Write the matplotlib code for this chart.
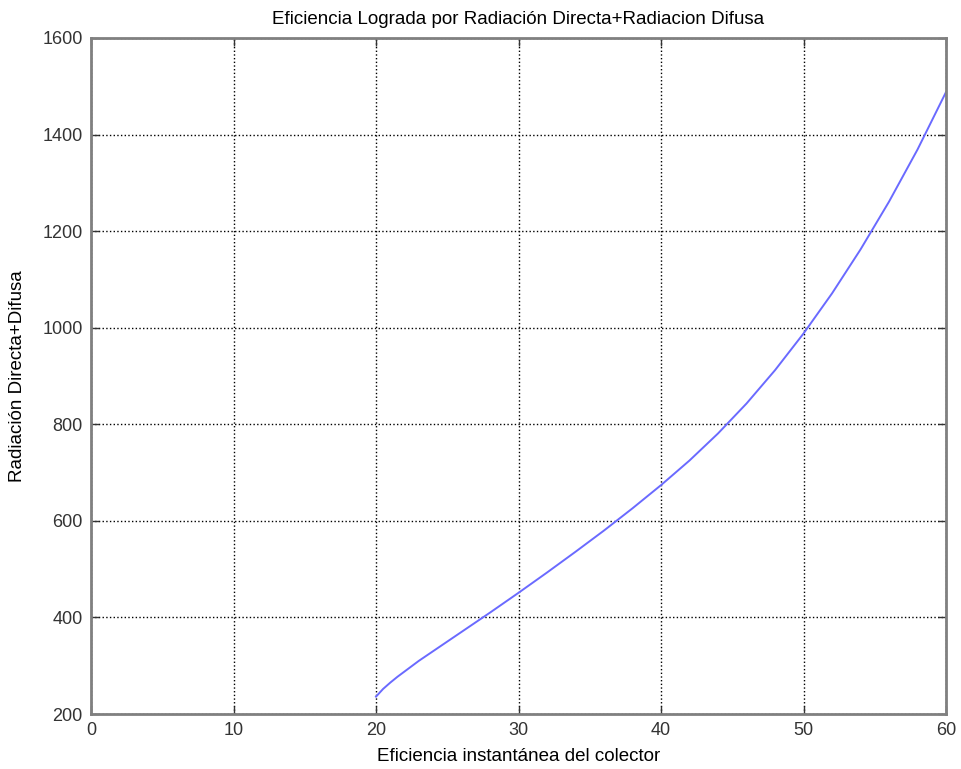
import matplotlib
matplotlib.use("Agg")
import matplotlib.pyplot as plt

plt.rcParams["font.family"] = ["Liberation Sans", "DejaVu Sans"]

# values
eficiencia = [20, 20.5, 21, 21.5, 22, 23, 24, 26, 28, 30, 32, 34, 36, 38, 40,
              42, 44, 46, 48, 50, 52, 54, 56, 58, 60]
radiacion = [236, 252, 265, 277, 288, 310, 330, 370, 410, 451, 493, 536, 580, 626, 674,
             725, 781, 843, 912, 988, 1071, 1162, 1261, 1369, 1488]

x_ticks = [0, 10, 20, 30, 40, 50, 60]
y_ticks = [200, 400, 600, 800, 1000, 1200, 1400, 1600]

fig = plt.figure(figsize=(9.61, 7.69), dpi=100)
ax = fig.add_axes([0.0947, 0.0715, 0.8897, 0.8791])

ax.plot(eficiencia, radiacion, color="#6a6aff", lw=1.4)

ax.set_xlim(0, 60)
ax.set_ylim(200, 1600)
ax.set_xticks(x_ticks)
ax.set_yticks(y_ticks)
ax.grid(True, color="black", linestyle=":", linewidth=1.0)
ax.tick_params(direction="in", top=True, right=True, labelsize=13, colors="#333333",
               length=6, width=1, pad=6)
for s in ax.spines.values():
    s.set_color("#808080")
    s.set_linewidth(2)

ax.set_title("Eficiencia Lograda por Radiación Directa+Radiacion Difusa", fontsize=13.5, pad=10)
ax.set_xlabel("Eficiencia instantánea del colector", fontsize=13.5, labelpad=6)
ax.set_ylabel("Radiación Directa+Difusa", fontsize=13.5, labelpad=12)

fig.savefig("out.png", dpi=100)
